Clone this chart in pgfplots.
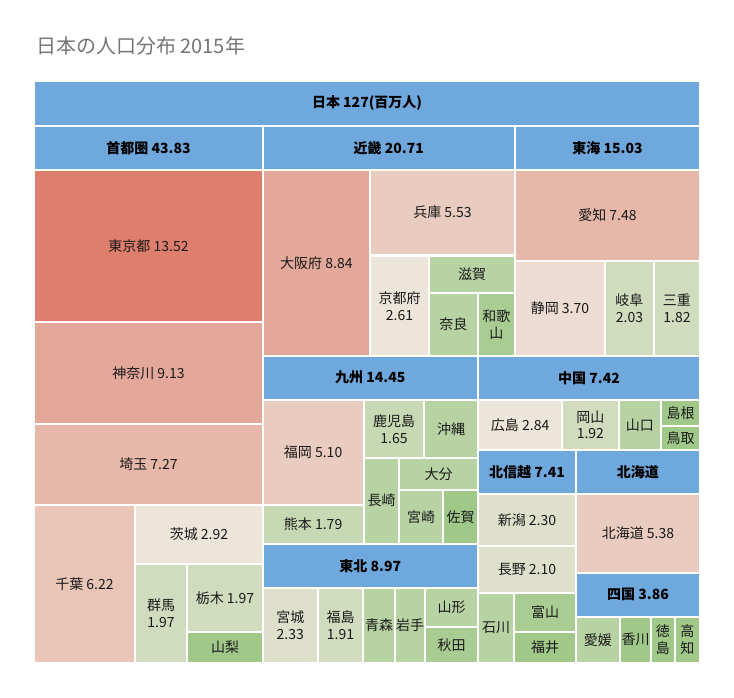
\documentclass[border=0pt]{standalone}
\usepackage{pgfplots}
\pgfplotsset{compat=1.18}
\usepackage{fontspec}
\setmainfont{Noto Sans CJK JP}
\definecolor{hd}{HTML}{6FA8DC}
\definecolor{r1}{HTML}{DE7E6C}
\definecolor{r2}{HTML}{E4A89A}
\definecolor{r3}{HTML}{E7B8A9}
\definecolor{r4}{HTML}{E9C5B8}
\definecolor{r5}{HTML}{E9CBBF}
\definecolor{r6}{HTML}{EDDCD3}
\definecolor{r7}{HTML}{EEE5DA}
\definecolor{y1}{HTML}{DEE0CB}
\definecolor{g1}{HTML}{D0DCBD}
\definecolor{g2}{HTML}{C7D9B3}
\definecolor{g3}{HTML}{B7D2A3}
\definecolor{g4}{HTML}{A8CC91}
\definecolor{g5}{HTML}{A0C889}
\definecolor{tt}{HTML}{757575}
\definecolor{lb}{HTML}{1A1A1A}
\newcommand{\lab}{\fontsize{14}{17}\selectfont}
% x1 y1 x2 y2 colour label
\newcommand{\cell}[6]{%
  \addplot[draw=none, fill=#5] coordinates {(#1,#2) (#3,#2) (#3,#4) (#1,#4)} -- cycle;
  \node[align=center, font=\lab, text=lb, inner sep=0pt] at (axis cs:{(#1+#3)/2},{(#2+#4)/2}) {#6};}
\newcommand{\head}[5]{%
  \addplot[draw=none, fill=hd] coordinates {(#1,#2) (#3,#2) (#3,#4) (#1,#4)} -- cycle;
  \node[align=center, font=\lab\bfseries, text=black, inner sep=0pt] at (axis cs:{(#1+#3)/2},{(#2+#4)/2}) {#5};}
\begin{document}
\begin{tikzpicture}
\begin{axis}[scale only axis, width=734pt, height=697pt,
  xmin=0, xmax=734, ymin=0, ymax=697, y dir=reverse, hide axis, clip=false]
\addplot[draw=none] coordinates {(0,0) (734,697)};
% headers
\head{35}{82}{699}{124.5}{日本 127(百万人)}
\head{35}{126.7}{262}{168.8}{首都圏 43.83}
\head{263.7}{126.7}{514}{168.8}{近畿 20.71}
\head{516}{126.7}{699}{168.8}{東海 15.03}
\head{263.5}{356.7}{477}{398.7}{九州 14.45}
\head{479}{356.7}{699}{398.7}{中国 7.42}
\head{479}{451}{575}{492.7}{北信越 7.41}
\head{577}{451}{699}{492.7}{北海道}
\head{263.5}{544.7}{477}{587.3}{東北 8.97}
\head{577}{574}{699}{615.7}{四国 3.86}
% 首都圏
\cell{35}{171}{262}{321}{r1}{東京都 13.52}
\cell{35}{323}{262}{422.7}{r2}{神奈川 9.13}
\cell{35}{424.7}{262}{503.7}{r3}{埼玉 7.27}
\cell{35}{505.7}{134}{661.7}{r4}{千葉 6.22}
\cell{136}{505.7}{262}{563}{r7}{茨城 2.92}
\cell{136}{565}{186}{661.7}{g1}{群馬\\1.97}
\cell{188}{565}{262}{630.7}{g1}{栃木 1.97}
\cell{188}{632.7}{262}{661.7}{g5}{山梨}
% 近畿
\cell{263.5}{171}{369.3}{354.7}{r2}{大阪府 8.84}
\cell{371}{170.7}{514}{254.3}{r5}{兵庫 5.53}
\cell{371}{256.7}{428}{354.7}{r7}{京都府\\2.61}
\cell{430}{256.7}{514}{291.7}{g3}{滋賀}
\cell{430}{293.7}{476.7}{354.7}{g3}{奈良}
\cell{478.7}{293.7}{514}{354.7}{g4}{和歌\\山}
% 東海
\cell{516}{170.7}{699}{260}{r3}{愛知 7.48}
\cell{516}{262}{604}{354.7}{r6}{静岡 3.70}
\cell{606}{262}{653}{354.7}{g1}{岐阜\\2.03}
\cell{655}{262}{699}{354.7}{g1}{三重\\1.82}
% 九州
\cell{263.5}{400.7}{362.7}{504.3}{r5}{福岡 5.10}
\cell{263.5}{506}{362.7}{542.7}{g2}{熊本 1.79}
\cell{365}{400.7}{423}{456.7}{g2}{鹿児島\\1.65}
\cell{425}{400.7}{477}{456.7}{g3}{沖縄}
\cell{365}{458.7}{398}{542.7}{g3}{長崎}
\cell{400}{458.7}{477}{489}{g3}{大分}
\cell{400}{491}{442}{542.7}{g3}{宮崎}
\cell{444}{491}{477}{542.7}{g5}{佐賀}
% 中国
\cell{479}{400.7}{561.3}{449}{r7}{広島 2.84}
\cell{563}{400.7}{617.7}{449}{g1}{岡山\\1.92}
\cell{620}{400.7}{659.7}{449}{g3}{山口}
\cell{662}{400.7}{699}{425}{g5}{島根}
\cell{662}{427}{699}{449}{g5}{鳥取}
% 北信越
\cell{479}{495}{575}{545}{y1}{新潟 2.30}
\cell{479}{547}{575}{592.3}{y1}{長野 2.10}
\cell{479}{594.3}{513}{661.7}{g3}{石川}
\cell{515}{594.3}{575}{631}{g4}{富山}
\cell{515}{633}{575}{661.7}{g5}{福井}
% 北海道
\cell{577}{495}{699}{572}{r5}{北海道 5.38}
% 東北
\cell{263.5}{589.3}{317}{661.7}{y1}{宮城\\2.33}
\cell{319}{589.3}{362}{661.7}{g1}{福島\\1.91}
\cell{364}{589.3}{394}{661.7}{g3}{青森}
\cell{396}{589.3}{424}{661.7}{g3}{岩手}
\cell{426}{589.3}{477}{625.7}{g3}{山形}
\cell{426}{627.7}{477}{661.7}{g4}{秋田}
% 四国
\cell{577}{617.7}{618.7}{661.7}{g3}{愛媛}
\cell{621}{617.7}{650}{661.7}{g5}{香川}
\cell{652}{617.7}{673.7}{661.7}{g5}{徳\\島}
\cell{675.7}{617.7}{699}{661.7}{g5}{高\\知}
% title
\node[anchor=base west, font=\fontsize{20}{20}\selectfont, text=tt, inner sep=0pt] at (axis cs:36,53.5) {日本の人口分布 2015年};
\end{axis}
\end{tikzpicture}
\end{document}
